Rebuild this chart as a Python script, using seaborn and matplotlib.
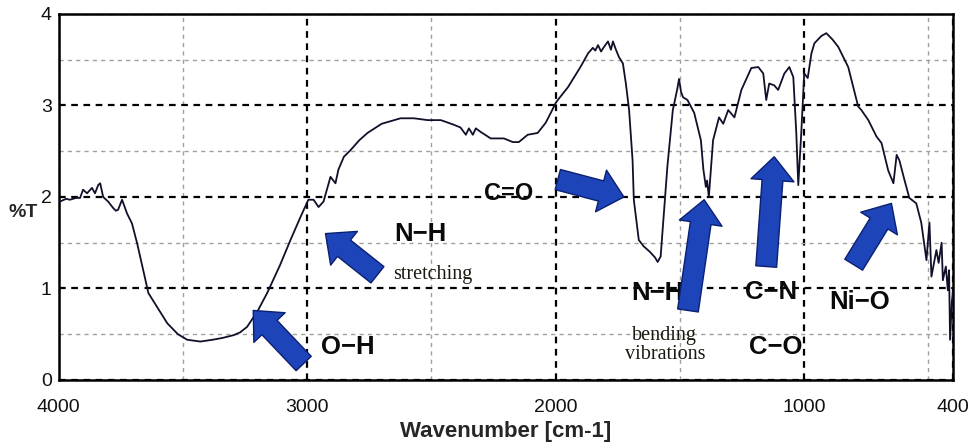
import matplotlib
matplotlib.use("Agg")
import matplotlib.pyplot as plt
import seaborn as sns
import pandas as pd
from matplotlib.ticker import MultipleLocator, FixedLocator

# ---- data ----
wavenumber = [
    4000, 3995, 3970, 3955, 3930, 3914, 3902, 3886, 3866, 3854, 3841, 3833, 3821,
    3801, 3781, 3770, 3761, 3745, 3725, 3705, 3684, 3660, 3639, 3600, 3563, 3520,
    3483, 3430, 3380, 3340, 3296, 3270, 3242, 3200, 3161, 3110, 3067, 3027, 2995,
    2974, 2954, 2934, 2906, 2886, 2874, 2852, 2826, 2790, 2757, 2700, 2624, 2570,
    2515, 2462, 2410, 2383, 2361, 2349, 2333, 2321, 2301, 2261, 2208, 2172, 2148,
    2112, 2072, 2040, 2019, 1999, 1991, 1950, 1900, 1869, 1850, 1840, 1829, 1817,
    1805, 1789, 1777, 1769, 1757, 1745, 1729, 1717,
    1704, 1690, 1685, 1665, 1645, 1620, 1600, 1589, 1577, 1550, 1528,
    1510, 1503, 1495, 1487, 1469, 1442, 1415, 1405, 1395, 1390, 1383, 1366, 1342,
    1325, 1305, 1280, 1252, 1212, 1184, 1164, 1152, 1140, 1120, 1104, 1079, 1059,
    1043, 1031, 1023, 1011, 999, 985, 970, 958, 930, 910, 885, 862, 822, 782, 769,
    741, 708, 688, 661, 640, 627, 616, 596, 576, 548, 528, 507, 495, 487, 467, 458,
    446, 441, 429, 421, 416, 412, 405, 400,
]
transmittance = [
    1.96, 1.95, 1.98, 1.97, 1.99, 1.99, 2.08, 2.04, 2.10, 2.04, 2.13, 2.15, 2.00,
    1.95, 1.88, 1.85, 1.86, 1.97, 1.82, 1.71, 1.49, 1.20, 0.95, 0.78, 0.62, 0.50,
    0.44, 0.42, 0.44, 0.46, 0.49, 0.52, 0.58, 0.75, 0.95, 1.25, 1.53, 1.78, 1.97,
    1.97, 1.89, 1.95, 2.22, 2.15, 2.30, 2.44, 2.51, 2.62, 2.70, 2.80, 2.86, 2.86,
    2.84, 2.84, 2.79, 2.76, 2.68, 2.75, 2.68, 2.75, 2.71, 2.64, 2.64, 2.60, 2.60,
    2.68, 2.70, 2.81, 2.92, 3.03, 3.06, 3.20, 3.42, 3.57, 3.63, 3.60, 3.66, 3.59,
    3.64, 3.70, 3.61, 3.70, 3.61, 3.53, 3.46, 3.24,
    2.95, 2.40, 1.97, 1.53, 1.46, 1.40, 1.34, 1.29, 1.35, 2.33, 2.95,
    3.18, 3.29, 3.15, 3.09, 3.06, 2.92, 2.62, 2.30, 2.11, 2.18, 2.00, 2.62, 2.87,
    2.80, 2.95, 2.87, 3.17, 3.41, 3.42, 3.35, 3.06, 3.24, 3.22, 3.17, 3.35, 3.42,
    3.31, 2.70, 2.13, 2.70, 3.35, 3.30, 3.57, 3.68, 3.76, 3.79, 3.72, 3.64, 3.42,
    2.99, 2.95, 2.84, 2.66, 2.59, 2.29, 2.15, 2.46, 2.40, 2.19, 1.99, 1.93, 1.72,
    1.31, 1.72, 1.13, 1.42, 1.28, 1.50, 1.09, 1.24, 0.98, 1.20, 0.44, 0.85, 0.98,
]
assert len(wavenumber) == len(transmittance), (len(wavenumber), len(transmittance))

x_ticks = [4000, 3000, 2000, 1000, 400]
y_ticks = [0, 1, 2, 3, 4]

# annotation labels: (text, x, y)
bold_labels = [("O\u2212H", 2837, 0.36), ("N\u2212H", 2543, 1.60),
               ("N\u2212H", 1589, 0.95), ("C\u2212N", 1132, 0.96), ("C\u2212O", 1112, 0.36),
               ("Ni\u2212O", 776, 0.85)]
co_label = ("C=O", 2188, 2.04)
serif_labels = [("stretching", 2495, 1.15), ("bending\nvibrations", 1560, 0.38)]
# arrows: (tail_x, tail_y, head_x, head_y)
arrows = [(3014, 0.18, 3217, 0.76), (2717, 1.15, 2926, 1.60), (1991, 2.19, 1725, 2.00),
          (1467, 0.76, 1402, 1.97), (1152, 1.24, 1120, 2.44), (800, 1.26, 648, 1.93)]

df = pd.DataFrame({"Wavenumber": wavenumber, "T": transmittance})

sns.set_style("white")
plt.rcParams["font.family"] = ["Liberation Sans", "DejaVu Sans"]

fig = plt.figure(figsize=(9.72, 4.48), dpi=100)
ax = fig.add_axes([0.0604, 0.1518, 0.9201, 0.8170])

sns.lineplot(data=df, x="Wavenumber", y="T", sort=False, estimator=None,
             color="#10102a", lw=1.3, ax=ax, zorder=3)

ax.set_xlim(4000, 400)
ax.set_ylim(0, 4)
ax.xaxis.set_major_locator(FixedLocator(x_ticks))
ax.xaxis.set_minor_locator(FixedLocator([3500, 2500, 1500, 500]))
ax.yaxis.set_major_locator(FixedLocator(y_ticks))
ax.yaxis.set_minor_locator(MultipleLocator(0.5))

ax.grid(which="major", color="black", linestyle=(0, (3, 2.5)), lw=1.6, zorder=1)
ax.grid(which="minor", color="#a0a0a0", linestyle=(0, (3, 3)), lw=1.0, zorder=1)

ax.tick_params(which="major", direction="in", length=5, width=1.5,
               labelsize=14, colors="#111111")
ax.tick_params(axis="x", which="major", pad=14)
ax.tick_params(axis="y", which="major", pad=5)
ax.tick_params(which="minor", length=0)
for s in ax.spines.values():
    s.set_color("black")
    s.set_linewidth(1.8)

ax.set_xlabel("Wavenumber [cm-1]", fontsize=16, fontweight="bold", labelpad=3)
ax.set_ylabel("")
fig.text(0.024, 0.525, "%T", fontsize=14, fontweight="bold", ha="center", va="center")

for txt, x, y in bold_labels:
    ax.text(x, y, txt, fontsize=18.5, fontweight="bold", ha="center", va="center",
            color="#0a0a0a", zorder=5)
ax.text(co_label[1], co_label[2], co_label[0], fontsize=17, fontweight="bold",
        ha="center", va="center", color="#0a0a0a", zorder=5)
for txt, x, y in serif_labels:
    ax.text(x, y, txt, fontsize=14.5, family=["Liberation Serif", "DejaVu Serif"],
            ha="center", va="center", color="#1a1a10", linespacing=1.0, zorder=5)

for tx, ty, hx, hy in arrows:
    ax.annotate("", xy=(hx, hy), xytext=(tx, ty),
                arrowprops=dict(arrowstyle="simple,head_length=0.85,head_width=1.55,tail_width=0.75",
                                fc="#1d44b8", ec="#0b2070", lw=1.0,
                                mutation_scale=20, shrinkA=0, shrinkB=0),
                zorder=6)

fig.savefig("out.png", dpi=100)
